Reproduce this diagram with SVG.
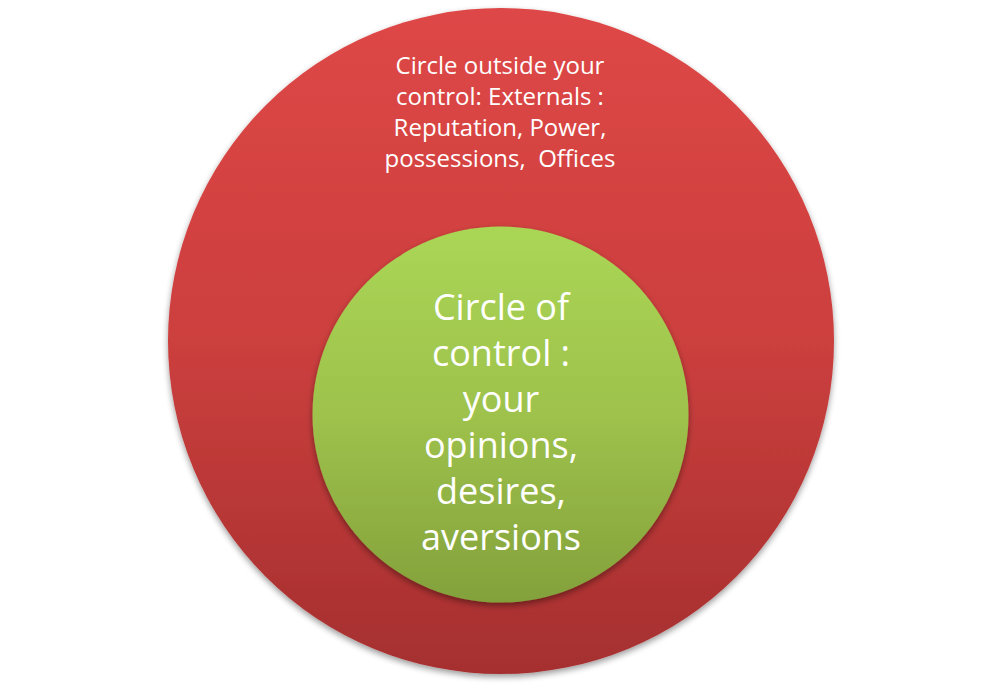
<svg xmlns="http://www.w3.org/2000/svg" width="1002" height="685" viewBox="0 0 1002 685">
<defs>
<linearGradient id="gRed" x1="0" y1="0" x2="0" y2="1">
<stop offset="0" stop-color="#de4746"/>
<stop offset="0.5" stop-color="#cc3f3e"/>
<stop offset="1" stop-color="#a52f2f"/>
</linearGradient>
<linearGradient id="gGreen" x1="0" y1="0" x2="0" y2="1">
<stop offset="0" stop-color="#aad655"/>
<stop offset="0.5" stop-color="#9ec24c"/>
<stop offset="1" stop-color="#83a13b"/>
</linearGradient>
<filter id="sh" x="-10%" y="-10%" width="120%" height="125%">
<feGaussianBlur in="SourceAlpha" stdDeviation="3"/>
<feOffset dy="3"/>
<feComponentTransfer><feFuncA type="linear" slope="0.4"/></feComponentTransfer>
<feMerge><feMergeNode/><feMergeNode in="SourceGraphic"/></feMerge>
</filter>
</defs>
<style>
.t{fill:#ffffff;font-family:"Open Sans","Liberation Sans",sans-serif;text-anchor:middle}
.s{font-size:24px}
.b{font-size:36px}
</style>
<rect width="1002" height="685" fill="#ffffff"/>
<g id="outer">
<circle cx="501" cy="341" r="333" fill="url(#gRed)" filter="url(#sh)"/>
<text class="t s" x="500" y="74">Circle outside your</text>
<text class="t s" x="500" y="105">control: Externals :</text>
<text class="t s" x="500" y="136">Reputation, Power,</text>
<text class="t s" x="500" y="167" style="white-space:pre">possessions,  Offices</text>
</g>
<g id="inner">
<circle cx="500.5" cy="414.5" r="188" fill="url(#gGreen)" filter="url(#sh)"/>
<text class="t b" x="501" y="320">Circle of</text>
<text class="t b" x="501" y="366">control :</text>
<text class="t b" x="501" y="412">your</text>
<text class="t b" x="501" y="458">opinions,</text>
<text class="t b" x="501" y="504">desires,</text>
<text class="t b" x="501" y="550">aversions</text>
</g>
<g id="connectors"/>
</svg>
